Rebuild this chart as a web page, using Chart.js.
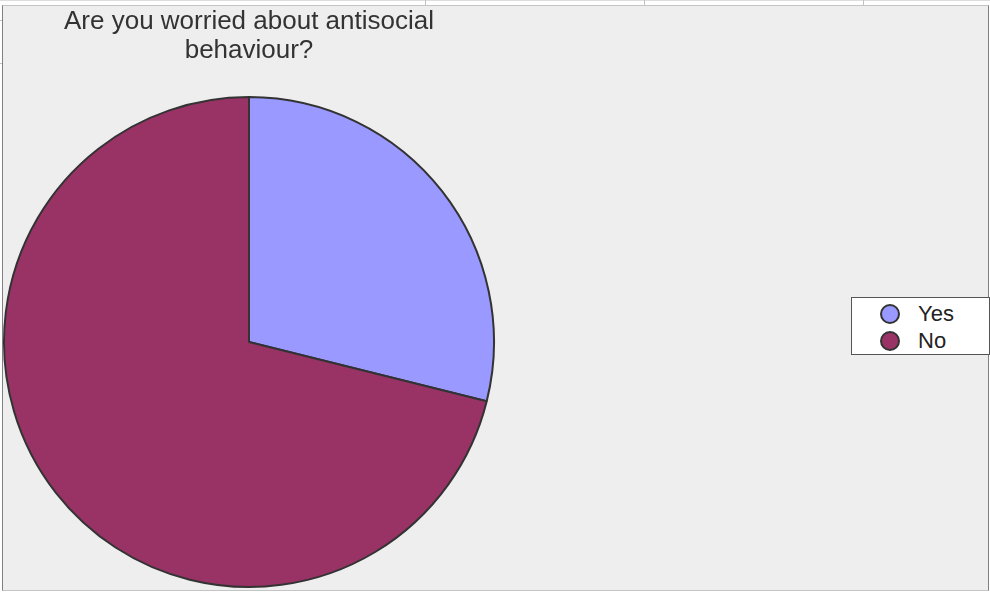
<!DOCTYPE html>
<html>
<head>
<meta charset="utf-8">
<script src="https://cdn.jsdelivr.net/npm/chart.js"></script>
<style>
  body { margin: 0; background: #ffffff; font-family: "Liberation Sans", Arial, sans-serif; }
  #page { position: relative; width: 990px; height: 593px; overflow: hidden; background: #ffffff; }
  .grid { position: absolute; background: #c0c0c0; }
  #panel { position: absolute; left: 2px; top: 5px; width: 985px; height: 584px; background: #eeeeee;
           border-top: 1px solid #c4c4c4; border-bottom: 1px solid #c4c4c4;
           border-left: 1px solid #808080; border-right: 1px solid #808080; }
  #wrap { position: absolute; left: 0; top: 0; width: 498px; height: 593px; }
  #titulo { position: absolute; left: 0; top: 6px; width: 498px; text-align: center;
            font-size: 26px; line-height: 29px; color: #333333; }
  #legenda { position: absolute; left: 851px; top: 297px; width: 137px; height: 54px;
             background: #ffffff; border: 1px solid #555555; padding-top: 2px; box-sizing: content-box; }
  .item { position: relative; height: 27px; line-height: 27px; font-size: 22px; color: #222222; }
  .bola { position: absolute; left: 28px; top: 4px; width: 16px; height: 16px; border-radius: 50%;
          border: 2px solid #333333; }
  .texto { position: absolute; left: 66px; top: 0; }
</style>
</head>
<body>
<div id="page">
  <div class="grid" style="left:0;top:0;width:990px;height:1px;background:#dddddd"></div>
  <div class="grid" style="left:425px;top:0;width:1px;height:5px"></div>
  <div class="grid" style="left:644px;top:0;width:1px;height:5px"></div>
  <div class="grid" style="left:863px;top:0;width:1px;height:5px"></div>
  <div class="grid" style="left:0;top:20px;width:2px;height:1px"></div>
  <div class="grid" style="left:0;top:63px;width:2px;height:1px"></div>
  <div id="panel"></div>
  <div id="wrap"><canvas id="myChart" width="498" height="593"></canvas></div>
  <div id="titulo"></div>
  <div id="legenda"></div>
</div>
<script>
//entrada

const titulo_linhas = ['Are you worried about antisocial', 'behaviour?']
const categorias = ['Yes', 'No']
const respostas = [13, 32]
const cores = ['#9999ff', '#993366']

const ctx = document.getElementById('myChart')
const visor_titulo = document.getElementById('titulo')
const visor_legenda = document.getElementById('legenda')

/*========================================================*/

//titulo e legenda

visor_titulo.innerHTML = titulo_linhas.join('<br>')

for (let i = 0; i < categorias.length; i++) {
    let item = document.createElement('div')
    item.className = 'item'
    item.innerHTML = '<span class="bola" style="background:' + cores[i] + '"></span>' +
                     '<span class="texto">' + categorias[i] + '</span>'
    visor_legenda.appendChild(item)
}

/*========================================================*/

//saida

var grafico = new Chart(ctx, {
    type: 'pie',
    data: {
        labels: categorias,
        datasets: [{
            data: respostas,
            backgroundColor: cores,
            borderColor: '#333333',
            borderWidth: 2,
            hoverOffset: 0
        }]
    },
    options: {
        responsive: false,
        animation: false,
        layout: {
            padding: { top: 96, left: 3, right: 3, bottom: 5 }
        },
        plugins: {
            legend: { display: false },
            title: { display: false },
            tooltip: { enabled: false }
        }
    }
});
</script>
</body>
</html>
